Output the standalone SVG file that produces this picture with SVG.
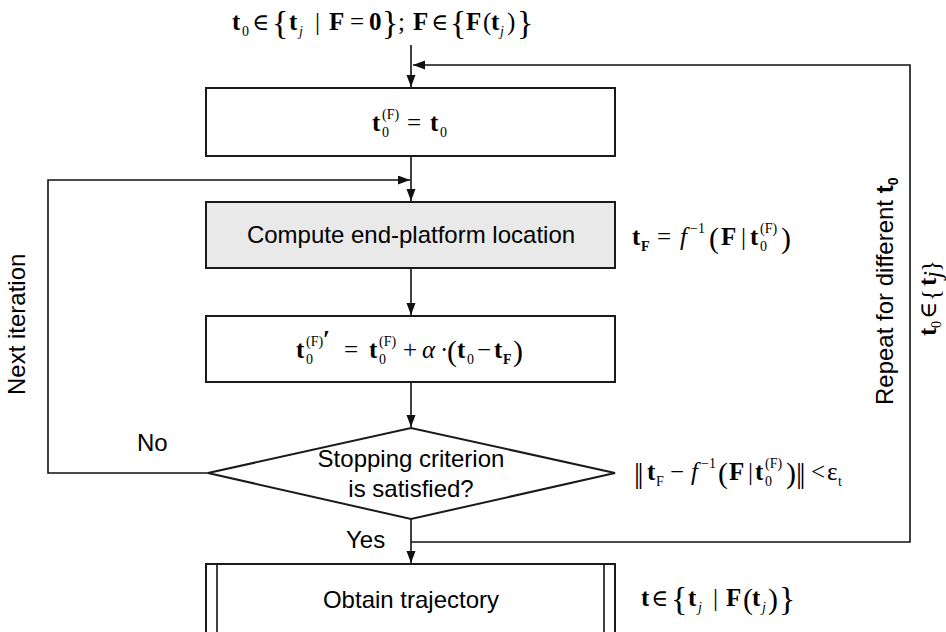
<svg xmlns="http://www.w3.org/2000/svg" width="946" height="632" viewBox="0 0 946 632">
<defs>
<style>
.box{fill:#fff;stroke:#1a1a1a;stroke-width:2}
.grey{fill:#e9e9e9}
.ln{fill:none;stroke:#111;stroke-width:1.6}
.lab{font-family:"Liberation Sans",Arial,sans-serif;font-size:24px;fill:#000}
.m{font-family:"Liberation Serif","Times New Roman",serif;font-size:25px;fill:#000}
.el{font-family:"DejaVu Serif","Liberation Serif",serif;font-size:23px}
.b{font-weight:bold}
.i{font-style:italic}
.s{font-size:14px}
.br{font-size:34px}
.pa{font-size:30px}
</style>
<marker id="ah" markerUnits="userSpaceOnUse" markerWidth="13" markerHeight="10" refX="12" refY="4.5" orient="auto">
<path d="M0,0 L12,4.5 L0,9 z" fill="#111"/>
</marker>
</defs>
<rect width="946" height="632" fill="#fff"/>

<g id="connectors">
<line class="ln" x1="411" y1="45" x2="411" y2="87" marker-end="url(#ah)"/>
<polyline class="ln" points="411,542 910,542 910,65 413,65" marker-end="url(#ah)"/>
<line class="ln" x1="411" y1="156" x2="411" y2="201" marker-end="url(#ah)"/>
<polyline class="ln" points="208,473 48,473 48,180 410,180" marker-end="url(#ah)"/>
<line class="ln" x1="411" y1="268" x2="411" y2="315" marker-end="url(#ah)"/>
<line class="ln" x1="411" y1="382" x2="411" y2="427" marker-end="url(#ah)"/>
<line class="ln" x1="411" y1="519" x2="411" y2="563" marker-end="url(#ah)"/>
<text class="lab" x="137" y="451">No</text>
<text class="lab" x="346" y="548">Yes</text>
<text class="lab" transform="translate(25,395) rotate(-90)">Next iteration</text>
<text class="lab" transform="translate(893,405) rotate(-90)">Repeat for different <tspan font-weight="bold">t</tspan><tspan font-weight="bold" font-size="14" dy="5">0</tspan></text>
<g transform="translate(936,336) rotate(-90)">
<text class="m b" x="0" y="0" font-size="22">t</text>
<text class="m s" x="8" y="5" font-size="12">0</text>
<text class="m el" x="17" y="0" font-size="19">∈</text>
<text class="m" x="35" y="3" font-size="30">{</text>
<text class="m b" x="50" y="0" font-size="22">t</text>
<text class="m i" x="58" y="5" font-size="12">j</text>
<text class="m" x="64" y="3" font-size="30">}</text>
</g>
</g>

<g id="start-label">
<text class="m b" x="232" y="30">t</text>
<text class="m s" x="242" y="36">0</text>
<text class="m el" x="252" y="30">∈</text>
<text class="m br" x="272" y="34">{</text>
<text class="m b" x="289" y="30">t</text>
<text class="m s i" x="299" y="36">j</text>
<text class="m" x="315" y="30">|</text>
<text class="m b" x="329" y="30">F</text>
<text class="m" x="350" y="30">=</text>
<text class="m b" x="369" y="30">0</text>
<text class="m br" x="382" y="34">}</text>
<text class="m" x="398" y="30">;</text>
<text class="m b" x="413" y="30">F</text>
<text class="m el" x="431" y="30">∈</text>
<text class="m br" x="450" y="34">{</text>
<text class="m b" x="466" y="30">F</text>
<text class="m" x="483" y="30">(</text>
<text class="m b" x="491" y="30">t</text>
<text class="m s i" x="500" y="36">j</text>
<text class="m" x="507" y="30">)</text>
<text class="m br" x="517" y="34">}</text>
</g>

<g id="init">
<rect class="box" x="206" y="88" width="409" height="68"/>
<text class="m b" x="372" y="131">t</text>
<text class="m s" x="382" y="119">(F)</text>
<text class="m s" x="382" y="137">0</text>
<text class="m" x="407" y="131">=</text>
<text class="m b" x="430" y="131">t</text>
<text class="m s" x="440" y="137">0</text>
</g>

<g id="compute">
<rect class="box grey" x="206" y="202" width="409" height="66"/>
<text class="lab" x="411" y="243" text-anchor="middle">Compute end-platform location</text>
<text class="m b" x="632" y="245">t</text>
<text class="m s b" x="641" y="251">F</text>
<text class="m" x="657" y="245">=</text>
<text class="m i" x="680" y="245">f</text>
<text class="m s" x="690" y="233">−1</text>
<text class="m pa" x="709" y="248">(</text>
<text class="m b" x="721" y="245">F</text>
<text class="m" x="741" y="245">|</text>
<text class="m b" x="750" y="245">t</text>
<text class="m s" x="760" y="233">(F)</text>
<text class="m s" x="760" y="251">0</text>
<text class="m pa" x="781" y="248">)</text>
</g>

<g id="update">
<rect class="box" x="206" y="316" width="409" height="66"/>
<text class="m b" x="296" y="358">t</text>
<text class="m s" x="306" y="346">(F)</text>
<text class="m s" x="306" y="364">0</text>
<text class="m b" x="323" y="348" font-size="20">′</text>
<text class="m" x="344" y="358">=</text>
<text class="m b" x="369" y="358">t</text>
<text class="m s" x="379" y="346">(F)</text>
<text class="m s" x="379" y="364">0</text>
<text class="m" x="403" y="358">+</text>
<text class="m i" x="422" y="358">α</text>
<text class="m" x="440" y="358">·</text>
<text class="m pa" x="447" y="361">(</text>
<text class="m b" x="457" y="358">t</text>
<text class="m s" x="467" y="364">0</text>
<text class="m" x="477" y="358">−</text>
<text class="m b" x="494" y="358">t</text>
<text class="m s b" x="503" y="364">F</text>
<text class="m pa" x="513" y="361">)</text>
</g>

<g id="decision">
<polygon class="box" points="208,473 411,428 615,473 411,519"/>
<text class="lab" x="411" y="467" text-anchor="middle">Stopping criterion</text>
<text class="lab" x="411" y="497" text-anchor="middle">is satisfied?</text>
<text class="m pa" x="634" y="483" letter-spacing="-2.5">||</text>
<text class="m b" x="647" y="480">t</text>
<text class="m s" x="656" y="486">F</text>
<text class="m" x="670" y="480">−</text>
<text class="m i" x="691" y="480">f</text>
<text class="m s" x="701" y="468">−1</text>
<text class="m pa" x="718" y="483">(</text>
<text class="m b" x="729" y="480">F</text>
<text class="m" x="748" y="480">|</text>
<text class="m b" x="755" y="480">t</text>
<text class="m s" x="765" y="468">(F)</text>
<text class="m s" x="765" y="486">0</text>
<text class="m pa" x="786" y="483">)</text>
<text class="m pa" x="796" y="483" letter-spacing="-2.5">||</text>
<text class="m" x="811" y="480">&lt;</text>
<text class="m" x="827" y="480">ε</text>
<text class="m s" x="838" y="486">t</text>
</g>

<g id="obtain">
<rect class="box" x="206" y="564" width="409" height="80"/>
<line class="ln" x1="217" y1="564" x2="217" y2="640" stroke-width="2"/>
<line class="ln" x1="604" y1="564" x2="604" y2="640" stroke-width="2"/>
<text class="lab" x="411" y="608" text-anchor="middle">Obtain trajectory</text>
<text class="m b" x="641" y="606">t</text>
<text class="m el" x="651" y="606">∈</text>
<text class="m br" x="671" y="610">{</text>
<text class="m b" x="688" y="606">t</text>
<text class="m s i" x="698" y="612">j</text>
<text class="m" x="713" y="606">|</text>
<text class="m b" x="726" y="606">F</text>
<text class="m pa" x="743" y="609">(</text>
<text class="m b" x="752" y="606">t</text>
<text class="m s i" x="762" y="612">j</text>
<text class="m pa" x="768" y="609">)</text>
<text class="m br" x="779" y="610">}</text>
</g>
</svg>
